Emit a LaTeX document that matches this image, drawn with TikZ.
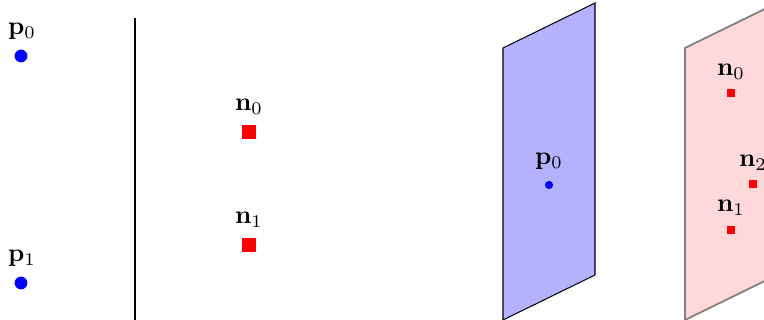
\documentclass[tikz,border=0pt]{standalone}
\begin{document}
\begin{tikzpicture}[x=0.39pt,y=-0.39pt,
  bdot/.style={circle,fill=blue,inner sep=0pt,minimum size=#1},
  rsq/.style={rectangle,fill=red,inner sep=0pt,minimum size=#1},
  lbl/.style={inner sep=0pt}]
\useasboundingbox (0,0) rectangle (764,320);
\begin{scope}
\clip (0,0) rectangle (764,320);
% left panel
\node[bdot=5pt] (p0) at (21,56) {};
\node[lbl] (lp0) at (22,31) {$\mathbf{p}_0$};
\node[bdot=5pt] (p1) at (21,283) {};
\node[lbl] (lp1) at (22,258) {$\mathbf{p}_1$};
\coordinate (wa) at (135,18);
\coordinate (wb) at (135,330);
\draw[line width=0.8pt] (wa) -- (wb);
\node[rsq=5.2pt] (n0) at (249,132) {};
\node[lbl] (ln0) at (249,107) {$\mathbf{n}_0$};
\node[rsq=5.2pt] (n1) at (249,245) {};
\node[lbl] (ln1) at (249,220) {$\mathbf{n}_1$};
% blue plane
\draw[fill=blue!30,line width=0.4pt] (503,48) -- (595,3) -- (595,275) -- (503,320) -- cycle;
\node[bdot=3.2pt] (q0) at (549,185) {};
\node[lbl] (lq0) at (549,161) {$\mathbf{p}_0$};
% pink plane
\draw[fill=red!15,draw=gray,line width=0.7pt] (685,48) -- (777,3) -- (777,275) -- (685,320) -- cycle;
\node[rsq=3.2pt] (m0) at (731,93) {};
\node[lbl] (lm0) at (731,72) {$\mathbf{n}_0$};
\node[rsq=3.2pt] (m2) at (753,184) {};
\node[lbl] (lm2) at (753,163) {$\mathbf{n}_2$};
\node[rsq=3.2pt] (m1) at (731,230) {};
\node[lbl] (lm1) at (731,208) {$\mathbf{n}_1$};
\end{scope}
\end{tikzpicture}
\end{document}
